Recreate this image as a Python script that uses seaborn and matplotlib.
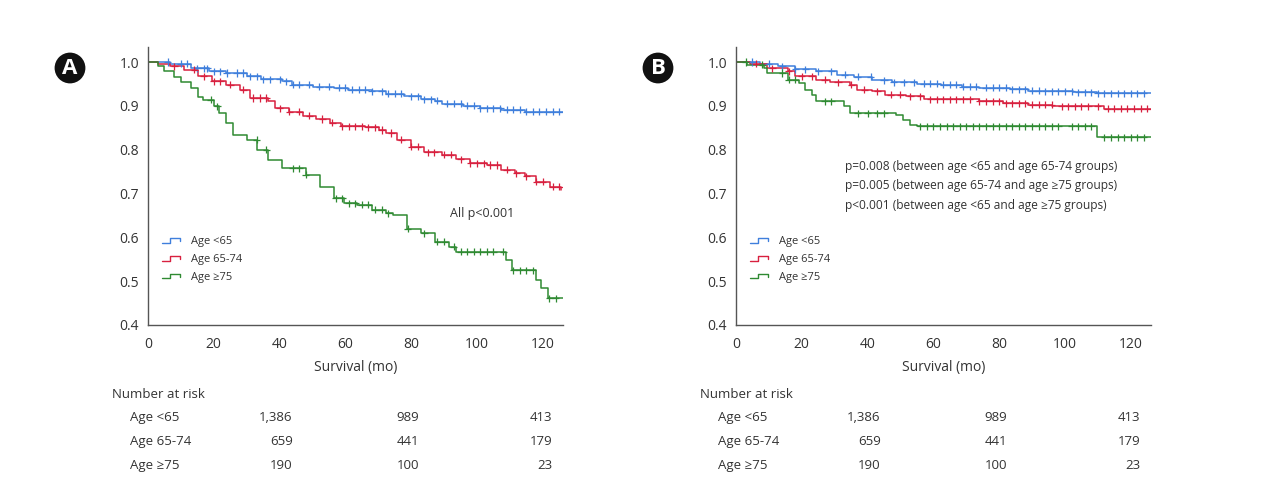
import numpy as np
import pandas as pd
import matplotlib
matplotlib.use("Agg")
import matplotlib.pyplot as plt
import matplotlib.transforms as mtransforms
from matplotlib.legend_handler import HandlerBase
from matplotlib.lines import Line2D
import seaborn as sns

# ---- data ----------------------------------------------------------------
groups = ["Age <65", "Age 65-74", "Age \u226575"]
colors = ["#3f7fdc", "#d8203f", "#2f8a32"]

# Panel A: overall survival, step points (time, survival)
a_young_t = [0, 6.8, 13.1, 18.4, 23.7, 30, 34.3, 40.6, 43.8, 50.2, 56.5, 60.7, 68, 72.4, 77.7, 83, 87.2, 89.3, 95.7, 101, 107.3, 114.7, 126]
a_young_s = [1.0, 0.996, 0.986, 0.979, 0.975, 0.967, 0.961, 0.956, 0.948, 0.944, 0.941, 0.937, 0.933, 0.928, 0.922, 0.915, 0.912, 0.905, 0.900, 0.895, 0.891, 0.887, 0.886]
a_mid_t = [0, 3, 6.8, 11, 15.2, 19.5, 23.7, 27.9, 31.1, 36.4, 38.5, 42.8, 47, 51.2, 55.4, 58.6, 66, 70.3, 72.4, 75.6, 79.8, 84, 89.3, 93.5, 97.8, 103, 107.3, 111.5, 114.7, 117.9, 122.1, 125.5]
a_mid_s = [1.0, 0.995, 0.99, 0.982, 0.967, 0.956, 0.948, 0.937, 0.918, 0.910, 0.895, 0.887, 0.877, 0.870, 0.861, 0.853, 0.851, 0.845, 0.838, 0.823, 0.807, 0.794, 0.788, 0.778, 0.769, 0.765, 0.754, 0.746, 0.739, 0.727, 0.716, 0.708]
a_old_t = [0, 3, 5, 8, 10, 13, 15.2, 16.8, 20, 21.6, 23.7, 25.8, 30, 33.2, 36.4, 40.6, 48, 52.3, 56.5, 59.7, 63.4, 68, 72.4, 74.5, 78.7, 83, 87.2, 91.4, 93.5, 107.3, 108.9, 110.5, 116.8, 117.9, 119.5, 121.6, 126]
a_old_s = [1.0, 0.99, 0.98, 0.965, 0.955, 0.94, 0.920, 0.914, 0.899, 0.883, 0.860, 0.834, 0.823, 0.800, 0.777, 0.758, 0.743, 0.716, 0.689, 0.678, 0.674, 0.663, 0.655, 0.651, 0.620, 0.609, 0.590, 0.579, 0.567, 0.567, 0.548, 0.525, 0.525, 0.503, 0.484, 0.461, 0.461]

# Panel B
b_young_t = [0, 7.4, 12.7, 17.9, 24.3, 30.6, 35.9, 41.2, 47.5, 54.9, 62.3, 68.6, 73.9, 83.4, 88.7, 93.9, 102.4, 109.8, 126]
b_young_s = [1.0, 0.996, 0.990, 0.984, 0.979, 0.971, 0.966, 0.958, 0.954, 0.950, 0.948, 0.944, 0.941, 0.938, 0.935, 0.933, 0.931, 0.929, 0.929]
b_mid_t = [0, 4.2, 9.5, 15.8, 17.9, 24.3, 28.5, 34.8, 36.9, 41.2, 45.4, 51.7, 57, 71.8, 73.9, 81.3, 88.7, 96.1, 102.4, 111.9, 126]
b_mid_s = [1.0, 0.996, 0.986, 0.979, 0.967, 0.960, 0.954, 0.948, 0.937, 0.933, 0.925, 0.922, 0.915, 0.915, 0.910, 0.906, 0.903, 0.899, 0.899, 0.893, 0.893]
b_old_t = [0, 3.2, 8.4, 9.5, 15.8, 19, 21.1, 23.2, 24.3, 30.6, 32.7, 34.8, 48.6, 50.7, 52.8, 54.9, 109.2, 109.8, 126]
b_old_s = [1.0, 0.994, 0.986, 0.975, 0.960, 0.952, 0.937, 0.925, 0.910, 0.910, 0.899, 0.883, 0.880, 0.868, 0.857, 0.853, 0.853, 0.828, 0.828]

# censoring times (tick marks)
a_young_c = [6, 10, 12, 15, 17, 18, 20, 22, 24, 27, 29, 31, 33, 35, 37, 40, 42, 44, 46, 49, 52, 55, 58, 60, 62, 64, 66, 68, 71, 73, 75, 77, 80, 82, 84, 86, 88, 91, 93, 95, 97, 99, 101, 103, 105, 107, 109, 111, 113, 115, 117, 119, 121, 123, 125]
a_mid_c = [8, 14, 17, 20, 22, 25, 29, 32, 34, 36, 40, 43, 46, 49, 53, 56, 59, 61, 63, 65, 67, 69, 71, 74, 77, 80, 82, 85, 87, 90, 92, 95, 98, 100, 102, 104, 106, 109, 112, 115, 118, 120, 123, 125]
a_old_c = [19, 21, 33, 36, 44, 46, 48, 57, 59, 61, 63, 65, 67, 69, 71, 73, 79, 84, 88, 90, 93, 95, 97, 99, 101, 103, 105, 108, 111, 113, 115, 117, 122, 124]
b_young_c = [5, 10, 14, 18, 21, 25, 29, 33, 37, 41, 45, 48, 51, 54, 57, 59, 61, 63, 65, 67, 69, 71, 73, 76, 78, 80, 82, 84, 86, 88, 90, 92, 94, 96, 98, 100, 102, 104, 106, 108, 110, 112, 114, 116, 118, 120, 122, 124]
b_mid_c = [6, 11, 16, 20, 23, 27, 31, 35, 39, 43, 47, 50, 53, 56, 59, 61, 63, 65, 67, 69, 71, 74, 76, 78, 80, 82, 84, 86, 88, 90, 92, 94, 96, 99, 101, 103, 105, 107, 110, 113, 115, 117, 119, 121, 123, 125]
b_old_c = [3, 8, 14, 16, 18, 27, 29, 37, 40, 43, 45, 56, 58, 60, 62, 64, 66, 68, 70, 72, 74, 76, 78, 80, 82, 84, 86, 88, 90, 92, 94, 96, 98, 102, 104, 106, 108, 112, 114, 116, 118, 120, 122, 124]

risk_times = [44, 82.4, 123]
risk_a = [["1,386", "989", "413"], ["659", "441", "179"], ["190", "100", "23"]]
risk_b = [["1,386", "989", "413"], ["659", "441", "179"], ["190", "100", "23"]]

p_text_a = "All p<0.001"
p_text_b = ["p=0.008 (between age <65 and age 65-74 groups)",
            "p=0.005 (between age 65-74 and age \u226575 groups)",
            "p<0.001 (between age <65 and age \u226575 groups)"]

# ---- styling ---------------------------------------------------------------
sns.set_style("white")
plt.rcParams["font.family"] = ["Open Sans", "DejaVu Sans"]
TXT = "#333333"
AX = "#555555"


def build_frames(curves, censors):
    """Long-form frames for step lines and censor marks."""
    lines, marks = [], []
    for g, (t, s), c in zip(groups, curves, censors):
        lines.append(pd.DataFrame({"time": t, "surv": s, "group": g}))
        t_arr, s_arr = np.asarray(t), np.asarray(s)
        idx = np.searchsorted(t_arr, c, side="right") - 1
        marks.append(pd.DataFrame({"time": c, "surv": s_arr[idx], "group": g}))
    return pd.concat(lines), pd.concat(marks)


class StepHandler(HandlerBase):
    def create_artists(self, legend, orig_handle, xdescent, ydescent,
                       width, height, fontsize, trans):
        w, h = width, height
        xs = np.array([0, 0.4, 0.4, 0.95, 0.95]) * w - xdescent
        ys = np.array([0.2, 0.2, 0.75, 0.75, 0.4]) * h - ydescent
        ln = Line2D(xs, ys, color=orig_handle.get_color(), lw=1.0)
        ln.set_transform(trans)
        return [ln]


def draw_panel(ax, curves, censors, risk):
    lines, marks = build_frames(curves, censors)
    sns.lineplot(data=lines, x="time", y="surv", hue="group", palette=colors,
                 hue_order=groups, estimator=None, drawstyle="steps-post",
                 linewidth=1.1, legend=False, ax=ax)
    sns.scatterplot(data=marks, x="time", y="surv", hue="group", palette=colors,
                    hue_order=groups, marker="+", s=26, linewidth=0.9,
                    legend=False, ax=ax, zorder=3)
    ax.set_xlim(0, 126)
    ax.set_ylim(0.4, 1.035)
    ax.set_xticks([0, 20, 40, 60, 80, 100, 120])
    ax.set_yticks([0.4, 0.5, 0.6, 0.7, 0.8, 0.9, 1.0])
    ax.set_yticklabels([f"{v:.1f}" for v in ax.get_yticks()])
    sns.despine(ax=ax)
    for sp in ("left", "bottom"):
        ax.spines[sp].set_color(AX)
        ax.spines[sp].set_linewidth(1.0)
    ax.tick_params(direction="out", length=5, width=1, color=AX,
                   labelsize=10, labelcolor=TXT)
    ax.tick_params(axis="x", pad=3.5)
    ax.tick_params(axis="y", pad=1.5)
    ax.set_xlabel("Survival (mo)", fontsize=10, color=TXT, labelpad=6)
    ax.set_ylabel("")

    handles = [Line2D([], [], color=c) for c in colors]
    ax.legend(handles, groups, loc="upper left", bbox_to_anchor=(0.01, 0.355),
              frameon=False, fontsize=8, labelcolor=TXT, handlelength=1.7,
              handletextpad=0.9, labelspacing=0.62,
              handler_map={Line2D: StepHandler()})

    tr = mtransforms.blended_transform_factory(ax.transData, ax.figure.transFigure)
    fy = lambda py: 1 - py / 491
    ax.text(-10.8, fy(394), "Number at risk", transform=tr, fontsize=9.5,
            color=TXT, va="center", ha="left")
    for i, g in enumerate(groups):
        y = fy(416 + 24 * i)
        ax.text(-5.5, y, g, transform=tr, fontsize=9.5, color=TXT,
                va="center_baseline", ha="left")
        for xt, val in zip(risk_times, risk[i]):
            ax.text(xt, y, val, transform=tr, fontsize=9.5, color=TXT,
                    va="center_baseline", ha="right")


fig = plt.figure(figsize=(12.8, 4.91), dpi=100)
axA = fig.add_axes([148 / 1280, 0.3381, 414.5 / 1280, 0.5668])
axB = fig.add_axes([736 / 1280, 0.3381, 414.5 / 1280, 0.5668])

draw_panel(axA,
           [(a_young_t, a_young_s), (a_mid_t, a_mid_s), (a_old_t, a_old_s)],
           [a_young_c, a_mid_c, a_old_c], risk_a)
draw_panel(axB,
           [(b_young_t, b_young_s), (b_mid_t, b_mid_s), (b_old_t, b_old_s)],
           [b_young_c, b_mid_c, b_old_c], risk_b)

axA.text(91.8, 0.655, p_text_a, fontsize=9, color=TXT, va="center", ha="left")
for i, line in enumerate(p_text_b):
    axB.text(33.1, 0.7626 - 0.0445 * i, line, fontsize=8.6, color=TXT,
             va="center", ha="left")

# panel letters
for px, lab in [(70, "A"), (658, "B")]:
    fig.text(px / 1280, 1 - 68 / 491, lab, fontsize=16, fontweight="bold",
             color="white", ha="center", va="center",
             bbox=dict(boxstyle="circle,pad=0.22", fc="#111111", ec="none"))

fig.savefig("out.png", dpi=100)
plt.close(fig)
